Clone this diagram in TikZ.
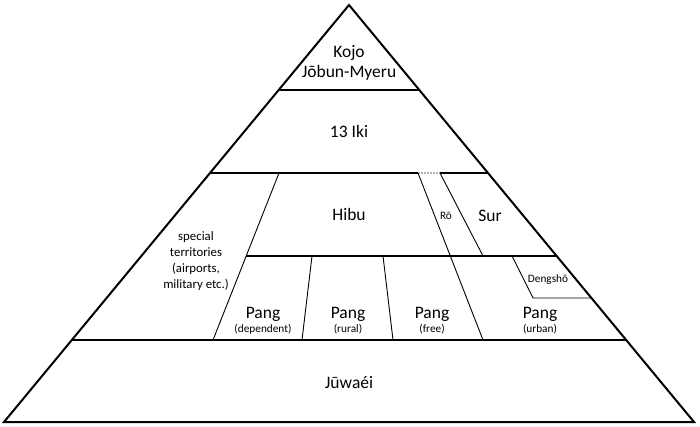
\documentclass[tikz,border=0pt]{standalone}
\usepackage{fontspec}
\setmainfont{Carlito}
\begin{document}
\begin{tikzpicture}[x=1pt,y=-1pt,
  outer/.style={line width=2pt,line join=miter},
  hline/.style={line width=1.5pt},
  inner/.style={line width=0.9pt},
  big/.style={font=\fontsize{17.5}{19}\selectfont,anchor=base,inner sep=0pt},
  small/.style={font=\fontsize{11.3}{13}\selectfont,anchor=base,inner sep=0pt},
  mid/.style={font=\fontsize{12.8}{15.8}\selectfont,align=center,inner sep=0pt}]
\useasboundingbox (0,0) rectangle (700,427);
\fill[white] (0,0) rectangle (700,427);
% pyramid corners
\coordinate (A) at (349,5);
\coordinate (BL) at (4,422);
\coordinate (BR) at (694,422);
\draw[outer] (A) -- (BL) -- (BR) -- cycle;
% horizontal levels
\draw[hline] (278.7,90) -- (419.3,90);
\draw[hline] (210,173) -- (418,173);
\draw[hline] (440,173) -- (488,173);
\draw[line width=1.2pt,gray!60,dash pattern=on 2pt off 1pt] (418,173) -- (440,173);
\draw[hline] (246.2,256) -- (556.7,256);
\draw[hline] (71.8,340) -- (626.2,340);
% inner dividers
\draw[inner] (279,173) -- (213,340);
\draw[inner] (418,173) -- (483,340);
\draw[inner] (440,173) -- (483,256);
\draw[inner] (312,256) -- (302,340);
\draw[inner] (383,256) -- (393,340);
\draw[inner] (512,256) -- (533,298) -- (591.4,298);
% labels
\node[big] (kojo) at (349,58) {Kojo};
\node[big] (jobun) at (349,78) {Jōbun-Myeru};
\node[big] (iki) at (349,138) {13 Iki};
\node[big] (hibu) at (349,221) {Hibu};
\node[small] (ro) at (446,220) {Rō};
\node[big] (sur) at (490,222) {Sur};
\node[mid] (spec) at (196,261) {special\\territories\\(airports,\\military etc.)};
\node[small] (deng) at (548,282) {Dengshō};
\node[big] (p1) at (263,318) {Pang};
\node[small] (p1s) at (263,332) {(dependent)};
\node[big] (p2) at (348,318) {Pang};
\node[small] (p2s) at (348,332) {(rural)};
\node[big] (p3) at (432,318) {Pang};
\node[small] (p3s) at (432,332) {(free)};
\node[big] (p4) at (540,318) {Pang};
\node[small] (p4s) at (540,332) {(urban)};
\node[big] (juw) at (349,388) {Jūwaéi};
\end{tikzpicture}
\end{document}
